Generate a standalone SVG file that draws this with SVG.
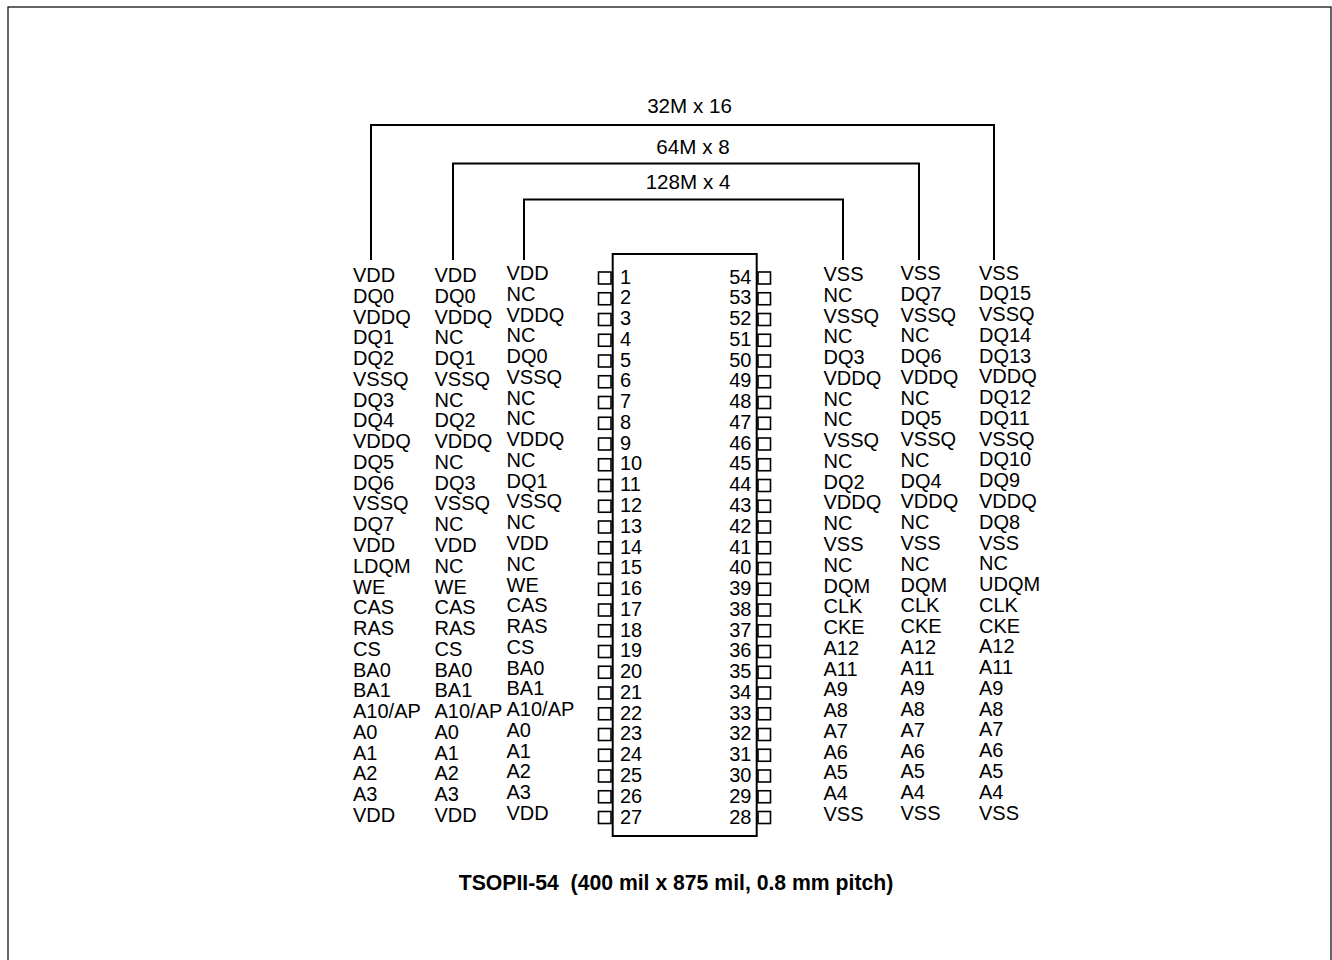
<svg xmlns="http://www.w3.org/2000/svg" width="1332" height="960" viewBox="0 0 1332 960">
<style>
text{font-family:"Liberation Sans",Arial,sans-serif;font-size:20px;fill:#000}
.pin{fill:#fff;stroke:#000;stroke-width:1.6}
.br{fill:none;stroke:#000;stroke-width:2}
.num-r{text-anchor:end}
.lbl{text-anchor:middle;font-size:20.6px}
.cap{font-weight:bold;text-anchor:middle;white-space:pre;font-size:21.2px}
</style>
<rect x="8" y="7" width="1323" height="970" fill="#fff" stroke="#000" stroke-width="1.2"/>
<g id="connectors">
<path class="br" d="M371,260 V125 H994 V260"/>
<path class="br" d="M453,260 V163.5 H919 V260"/>
<path class="br" d="M524,260 V199.5 H843 V260"/>
</g>
<g id="labels">
<text class="lbl" x="689.5" y="112.5">32M x 16</text>
<text class="lbl" x="693" y="154">64M x 8</text>
<text class="lbl" x="688" y="189">128M x 4</text>
</g>
<g id="chip">
<rect x="612.7" y="254" width="144" height="582" fill="#fff" stroke="#000" stroke-width="2"/>
<g id="pins-left">
<rect class="pin" x="598.5" y="272" width="12.5" height="12"/>
<rect class="pin" x="598.5" y="292.75" width="12.5" height="12"/>
<rect class="pin" x="598.5" y="313.5" width="12.5" height="12"/>
<rect class="pin" x="598.5" y="334.25" width="12.5" height="12"/>
<rect class="pin" x="598.5" y="355" width="12.5" height="12"/>
<rect class="pin" x="598.5" y="375.75" width="12.5" height="12"/>
<rect class="pin" x="598.5" y="396.5" width="12.5" height="12"/>
<rect class="pin" x="598.5" y="417.25" width="12.5" height="12"/>
<rect class="pin" x="598.5" y="438" width="12.5" height="12"/>
<rect class="pin" x="598.5" y="458.75" width="12.5" height="12"/>
<rect class="pin" x="598.5" y="479.5" width="12.5" height="12"/>
<rect class="pin" x="598.5" y="500.25" width="12.5" height="12"/>
<rect class="pin" x="598.5" y="521" width="12.5" height="12"/>
<rect class="pin" x="598.5" y="541.75" width="12.5" height="12"/>
<rect class="pin" x="598.5" y="562.5" width="12.5" height="12"/>
<rect class="pin" x="598.5" y="583.25" width="12.5" height="12"/>
<rect class="pin" x="598.5" y="604" width="12.5" height="12"/>
<rect class="pin" x="598.5" y="624.75" width="12.5" height="12"/>
<rect class="pin" x="598.5" y="645.5" width="12.5" height="12"/>
<rect class="pin" x="598.5" y="666.25" width="12.5" height="12"/>
<rect class="pin" x="598.5" y="687" width="12.5" height="12"/>
<rect class="pin" x="598.5" y="707.75" width="12.5" height="12"/>
<rect class="pin" x="598.5" y="728.5" width="12.5" height="12"/>
<rect class="pin" x="598.5" y="749.25" width="12.5" height="12"/>
<rect class="pin" x="598.5" y="770" width="12.5" height="12"/>
<rect class="pin" x="598.5" y="790.75" width="12.5" height="12"/>
<rect class="pin" x="598.5" y="811.5" width="12.5" height="12"/>
</g>
<g id="pins-right">
<rect class="pin" x="758" y="272" width="12.5" height="12"/>
<rect class="pin" x="758" y="292.75" width="12.5" height="12"/>
<rect class="pin" x="758" y="313.5" width="12.5" height="12"/>
<rect class="pin" x="758" y="334.25" width="12.5" height="12"/>
<rect class="pin" x="758" y="355" width="12.5" height="12"/>
<rect class="pin" x="758" y="375.75" width="12.5" height="12"/>
<rect class="pin" x="758" y="396.5" width="12.5" height="12"/>
<rect class="pin" x="758" y="417.25" width="12.5" height="12"/>
<rect class="pin" x="758" y="438" width="12.5" height="12"/>
<rect class="pin" x="758" y="458.75" width="12.5" height="12"/>
<rect class="pin" x="758" y="479.5" width="12.5" height="12"/>
<rect class="pin" x="758" y="500.25" width="12.5" height="12"/>
<rect class="pin" x="758" y="521" width="12.5" height="12"/>
<rect class="pin" x="758" y="541.75" width="12.5" height="12"/>
<rect class="pin" x="758" y="562.5" width="12.5" height="12"/>
<rect class="pin" x="758" y="583.25" width="12.5" height="12"/>
<rect class="pin" x="758" y="604" width="12.5" height="12"/>
<rect class="pin" x="758" y="624.75" width="12.5" height="12"/>
<rect class="pin" x="758" y="645.5" width="12.5" height="12"/>
<rect class="pin" x="758" y="666.25" width="12.5" height="12"/>
<rect class="pin" x="758" y="687" width="12.5" height="12"/>
<rect class="pin" x="758" y="707.75" width="12.5" height="12"/>
<rect class="pin" x="758" y="728.5" width="12.5" height="12"/>
<rect class="pin" x="758" y="749.25" width="12.5" height="12"/>
<rect class="pin" x="758" y="770" width="12.5" height="12"/>
<rect class="pin" x="758" y="790.75" width="12.5" height="12"/>
<rect class="pin" x="758" y="811.5" width="12.5" height="12"/>
</g>
<text id="pin-numbers-left" x="620" y="283.5"><tspan x="620">1</tspan><tspan x="620" dy="20.77">2</tspan><tspan x="620" dy="20.77">3</tspan><tspan x="620" dy="20.77">4</tspan><tspan x="620" dy="20.77">5</tspan><tspan x="620" dy="20.77">6</tspan><tspan x="620" dy="20.77">7</tspan><tspan x="620" dy="20.77">8</tspan><tspan x="620" dy="20.77">9</tspan><tspan x="620" dy="20.77">10</tspan><tspan x="620" dy="20.77">11</tspan><tspan x="620" dy="20.77">12</tspan><tspan x="620" dy="20.77">13</tspan><tspan x="620" dy="20.77">14</tspan><tspan x="620" dy="20.77">15</tspan><tspan x="620" dy="20.77">16</tspan><tspan x="620" dy="20.77">17</tspan><tspan x="620" dy="20.77">18</tspan><tspan x="620" dy="20.77">19</tspan><tspan x="620" dy="20.77">20</tspan><tspan x="620" dy="20.77">21</tspan><tspan x="620" dy="20.77">22</tspan><tspan x="620" dy="20.77">23</tspan><tspan x="620" dy="20.77">24</tspan><tspan x="620" dy="20.77">25</tspan><tspan x="620" dy="20.77">26</tspan><tspan x="620" dy="20.77">27</tspan></text>
<text id="pin-numbers-right" class="num-r" x="751.5" y="283.5"><tspan x="751.5">54</tspan><tspan x="751.5" dy="20.77">53</tspan><tspan x="751.5" dy="20.77">52</tspan><tspan x="751.5" dy="20.77">51</tspan><tspan x="751.5" dy="20.77">50</tspan><tspan x="751.5" dy="20.77">49</tspan><tspan x="751.5" dy="20.77">48</tspan><tspan x="751.5" dy="20.77">47</tspan><tspan x="751.5" dy="20.77">46</tspan><tspan x="751.5" dy="20.77">45</tspan><tspan x="751.5" dy="20.77">44</tspan><tspan x="751.5" dy="20.77">43</tspan><tspan x="751.5" dy="20.77">42</tspan><tspan x="751.5" dy="20.77">41</tspan><tspan x="751.5" dy="20.77">40</tspan><tspan x="751.5" dy="20.77">39</tspan><tspan x="751.5" dy="20.77">38</tspan><tspan x="751.5" dy="20.77">37</tspan><tspan x="751.5" dy="20.77">36</tspan><tspan x="751.5" dy="20.77">35</tspan><tspan x="751.5" dy="20.77">34</tspan><tspan x="751.5" dy="20.77">33</tspan><tspan x="751.5" dy="20.77">32</tspan><tspan x="751.5" dy="20.77">31</tspan><tspan x="751.5" dy="20.77">30</tspan><tspan x="751.5" dy="20.77">29</tspan><tspan x="751.5" dy="20.77">28</tspan></text>
</g>
<g id="col-x16-left">
<text x="353" y="282"><tspan x="353">VDD</tspan><tspan x="353" dy="20.77">DQ0</tspan><tspan x="353" dy="20.77">VDDQ</tspan><tspan x="353" dy="20.77">DQ1</tspan><tspan x="353" dy="20.77">DQ2</tspan><tspan x="353" dy="20.77">VSSQ</tspan><tspan x="353" dy="20.77">DQ3</tspan><tspan x="353" dy="20.77">DQ4</tspan><tspan x="353" dy="20.77">VDDQ</tspan><tspan x="353" dy="20.77">DQ5</tspan><tspan x="353" dy="20.77">DQ6</tspan><tspan x="353" dy="20.77">VSSQ</tspan><tspan x="353" dy="20.77">DQ7</tspan><tspan x="353" dy="20.77">VDD</tspan><tspan x="353" dy="20.77">LDQM</tspan><tspan x="353" dy="20.77">WE</tspan><tspan x="353" dy="20.77">CAS</tspan><tspan x="353" dy="20.77">RAS</tspan><tspan x="353" dy="20.77">CS</tspan><tspan x="353" dy="20.77">BA0</tspan><tspan x="353" dy="20.77">BA1</tspan><tspan x="353" dy="20.77">A10/AP</tspan><tspan x="353" dy="20.77">A0</tspan><tspan x="353" dy="20.77">A1</tspan><tspan x="353" dy="20.77">A2</tspan><tspan x="353" dy="20.77">A3</tspan><tspan x="353" dy="20.77">VDD</tspan></text>
</g>
<g id="col-x8-left">
<text x="434.5" y="282"><tspan x="434.5">VDD</tspan><tspan x="434.5" dy="20.77">DQ0</tspan><tspan x="434.5" dy="20.77">VDDQ</tspan><tspan x="434.5" dy="20.77">NC</tspan><tspan x="434.5" dy="20.77">DQ1</tspan><tspan x="434.5" dy="20.77">VSSQ</tspan><tspan x="434.5" dy="20.77">NC</tspan><tspan x="434.5" dy="20.77">DQ2</tspan><tspan x="434.5" dy="20.77">VDDQ</tspan><tspan x="434.5" dy="20.77">NC</tspan><tspan x="434.5" dy="20.77">DQ3</tspan><tspan x="434.5" dy="20.77">VSSQ</tspan><tspan x="434.5" dy="20.77">NC</tspan><tspan x="434.5" dy="20.77">VDD</tspan><tspan x="434.5" dy="20.77">NC</tspan><tspan x="434.5" dy="20.77">WE</tspan><tspan x="434.5" dy="20.77">CAS</tspan><tspan x="434.5" dy="20.77">RAS</tspan><tspan x="434.5" dy="20.77">CS</tspan><tspan x="434.5" dy="20.77">BA0</tspan><tspan x="434.5" dy="20.77">BA1</tspan><tspan x="434.5" dy="20.77">A10/AP</tspan><tspan x="434.5" dy="20.77">A0</tspan><tspan x="434.5" dy="20.77">A1</tspan><tspan x="434.5" dy="20.77">A2</tspan><tspan x="434.5" dy="20.77">A3</tspan><tspan x="434.5" dy="20.77">VDD</tspan></text>
</g>
<g id="col-x4-left">
<text x="506.5" y="280"><tspan x="506.5">VDD</tspan><tspan x="506.5" dy="20.77">NC</tspan><tspan x="506.5" dy="20.77">VDDQ</tspan><tspan x="506.5" dy="20.77">NC</tspan><tspan x="506.5" dy="20.77">DQ0</tspan><tspan x="506.5" dy="20.77">VSSQ</tspan><tspan x="506.5" dy="20.77">NC</tspan><tspan x="506.5" dy="20.77">NC</tspan><tspan x="506.5" dy="20.77">VDDQ</tspan><tspan x="506.5" dy="20.77">NC</tspan><tspan x="506.5" dy="20.77">DQ1</tspan><tspan x="506.5" dy="20.77">VSSQ</tspan><tspan x="506.5" dy="20.77">NC</tspan><tspan x="506.5" dy="20.77">VDD</tspan><tspan x="506.5" dy="20.77">NC</tspan><tspan x="506.5" dy="20.77">WE</tspan><tspan x="506.5" dy="20.77">CAS</tspan><tspan x="506.5" dy="20.77">RAS</tspan><tspan x="506.5" dy="20.77">CS</tspan><tspan x="506.5" dy="20.77">BA0</tspan><tspan x="506.5" dy="20.77">BA1</tspan><tspan x="506.5" dy="20.77">A10/AP</tspan><tspan x="506.5" dy="20.77">A0</tspan><tspan x="506.5" dy="20.77">A1</tspan><tspan x="506.5" dy="20.77">A2</tspan><tspan x="506.5" dy="20.77">A3</tspan><tspan x="506.5" dy="20.77">VDD</tspan></text>
</g>
<g id="col-x4-right">
<text x="823.5" y="281"><tspan x="823.5">VSS</tspan><tspan x="823.5" dy="20.77">NC</tspan><tspan x="823.5" dy="20.77">VSSQ</tspan><tspan x="823.5" dy="20.77">NC</tspan><tspan x="823.5" dy="20.77">DQ3</tspan><tspan x="823.5" dy="20.77">VDDQ</tspan><tspan x="823.5" dy="20.77">NC</tspan><tspan x="823.5" dy="20.77">NC</tspan><tspan x="823.5" dy="20.77">VSSQ</tspan><tspan x="823.5" dy="20.77">NC</tspan><tspan x="823.5" dy="20.77">DQ2</tspan><tspan x="823.5" dy="20.77">VDDQ</tspan><tspan x="823.5" dy="20.77">NC</tspan><tspan x="823.5" dy="20.77">VSS</tspan><tspan x="823.5" dy="20.77">NC</tspan><tspan x="823.5" dy="20.77">DQM</tspan><tspan x="823.5" dy="20.77">CLK</tspan><tspan x="823.5" dy="20.77">CKE</tspan><tspan x="823.5" dy="20.77">A12</tspan><tspan x="823.5" dy="20.77">A11</tspan><tspan x="823.5" dy="20.77">A9</tspan><tspan x="823.5" dy="20.77">A8</tspan><tspan x="823.5" dy="20.77">A7</tspan><tspan x="823.5" dy="20.77">A6</tspan><tspan x="823.5" dy="20.77">A5</tspan><tspan x="823.5" dy="20.77">A4</tspan><tspan x="823.5" dy="20.77">VSS</tspan></text>
</g>
<g id="col-x8-right">
<text x="900.5" y="280"><tspan x="900.5">VSS</tspan><tspan x="900.5" dy="20.77">DQ7</tspan><tspan x="900.5" dy="20.77">VSSQ</tspan><tspan x="900.5" dy="20.77">NC</tspan><tspan x="900.5" dy="20.77">DQ6</tspan><tspan x="900.5" dy="20.77">VDDQ</tspan><tspan x="900.5" dy="20.77">NC</tspan><tspan x="900.5" dy="20.77">DQ5</tspan><tspan x="900.5" dy="20.77">VSSQ</tspan><tspan x="900.5" dy="20.77">NC</tspan><tspan x="900.5" dy="20.77">DQ4</tspan><tspan x="900.5" dy="20.77">VDDQ</tspan><tspan x="900.5" dy="20.77">NC</tspan><tspan x="900.5" dy="20.77">VSS</tspan><tspan x="900.5" dy="20.77">NC</tspan><tspan x="900.5" dy="20.77">DQM</tspan><tspan x="900.5" dy="20.77">CLK</tspan><tspan x="900.5" dy="20.77">CKE</tspan><tspan x="900.5" dy="20.77">A12</tspan><tspan x="900.5" dy="20.77">A11</tspan><tspan x="900.5" dy="20.77">A9</tspan><tspan x="900.5" dy="20.77">A8</tspan><tspan x="900.5" dy="20.77">A7</tspan><tspan x="900.5" dy="20.77">A6</tspan><tspan x="900.5" dy="20.77">A5</tspan><tspan x="900.5" dy="20.77">A4</tspan><tspan x="900.5" dy="20.77">VSS</tspan></text>
</g>
<g id="col-x16-right">
<text x="979" y="279.5"><tspan x="979">VSS</tspan><tspan x="979" dy="20.77">DQ15</tspan><tspan x="979" dy="20.77">VSSQ</tspan><tspan x="979" dy="20.77">DQ14</tspan><tspan x="979" dy="20.77">DQ13</tspan><tspan x="979" dy="20.77">VDDQ</tspan><tspan x="979" dy="20.77">DQ12</tspan><tspan x="979" dy="20.77">DQ11</tspan><tspan x="979" dy="20.77">VSSQ</tspan><tspan x="979" dy="20.77">DQ10</tspan><tspan x="979" dy="20.77">DQ9</tspan><tspan x="979" dy="20.77">VDDQ</tspan><tspan x="979" dy="20.77">DQ8</tspan><tspan x="979" dy="20.77">VSS</tspan><tspan x="979" dy="20.77">NC</tspan><tspan x="979" dy="20.77">UDQM</tspan><tspan x="979" dy="20.77">CLK</tspan><tspan x="979" dy="20.77">CKE</tspan><tspan x="979" dy="20.77">A12</tspan><tspan x="979" dy="20.77">A11</tspan><tspan x="979" dy="20.77">A9</tspan><tspan x="979" dy="20.77">A8</tspan><tspan x="979" dy="20.77">A7</tspan><tspan x="979" dy="20.77">A6</tspan><tspan x="979" dy="20.77">A5</tspan><tspan x="979" dy="20.77">A4</tspan><tspan x="979" dy="20.77">VSS</tspan></text>
</g>
<g id="caption">
<text class="cap" x="676" y="890" xml:space="preserve">TSOPII-54  (400 mil x 875 mil, 0.8 mm pitch)</text>
</g>
</svg>
